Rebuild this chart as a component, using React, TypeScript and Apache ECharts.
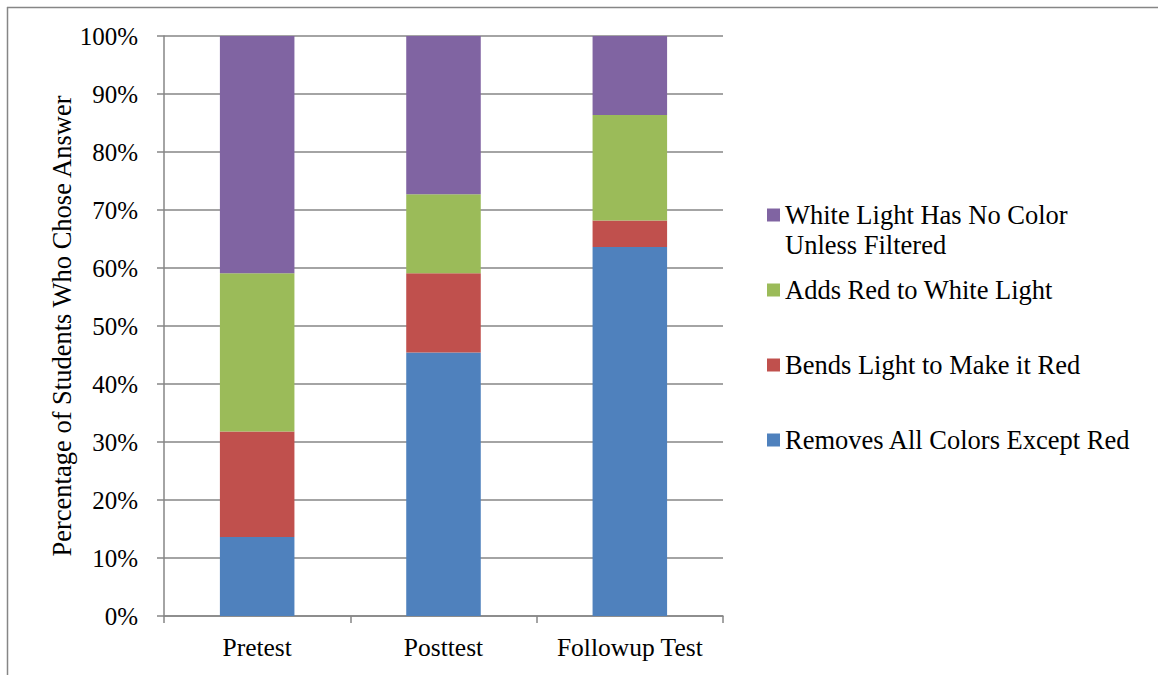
import React, { useEffect, useRef } from "react";
import * as echarts from "echarts";

const categories = ["Pretest", "Posttest", "Followup Test"];
const seriesNames = [
  "Removes All Colors Except Red",
  "Bends Light to Make it Red",
  "Adds Red to White Light",
  "White Light Has No Color Unless Filtered",
];
const removesAll = [13.64, 45.45, 63.64];
const bendsLight = [18.18, 13.64, 4.55];
const addsRed = [27.27, 13.64, 18.18];
const noColor = [40.91, 27.27, 13.64];
const seriesColors = ["#4F81BD", "#C0504D", "#9BBB59", "#8064A2"];
const yTicks = [0, 10, 20, 30, 40, 50, 60, 70, 80, 90, 100];

const FONT = "Liberation Serif";

export default function App() {
  const ref = useRef<HTMLDivElement>(null);
  useEffect(() => {
    if (!ref.current) return;
    const chart = echarts.init(ref.current, undefined, { renderer: "svg" });
    const values = [removesAll, bendsLight, addsRed, noColor];
    const legendCenters = [441, 366, 291, 216];
    const legends = seriesNames.map((name, i) => {
      const multi = i === 3;
      return {
        orient: "vertical",
        left: 762,
        top: multi ? legendCenters[i] - 51 : legendCenters[i] - 21,
        itemWidth: 13,
        itemHeight: 13,
        icon: "rect",
        selectedMode: false,
        data: [name],
        formatter: multi ? () => "\nWhite Light Has No Color\nUnless Filtered" : undefined,
        textStyle: {
          fontFamily: FONT,
          fontSize: 26.5,
          color: "#000",
          lineHeight: 30,
        },
      };
    });
    chart.setOption({
      animation: false,
      backgroundColor: "#fff",
      color: seriesColors,
      grid: { left: 164, right: 435, top: 36, bottom: 59, containLabel: false },
      legend: legends,
      xAxis: {
        type: "category",
        data: categories,
        axisLine: { lineStyle: { color: "#868686", width: 1.5 } },
        axisTick: { show: true, length: 7, lineStyle: { color: "#868686", width: 1.5 } },
        axisLabel: { fontFamily: FONT, fontSize: 25.5, color: "#000", margin: 18, interval: 0 },
      },
      yAxis: {
        type: "value",
        min: 0,
        max: 100,
        interval: 10,
        name: "Percentage of Students Who Chose Answer",
        nameLocation: "middle",
        nameGap: 89,
        nameTextStyle: { fontFamily: FONT, fontSize: 26.5, color: "#000" },
        axisLine: { show: true, lineStyle: { color: "#868686", width: 1.5 } },
        axisTick: { show: true, length: 7, lineStyle: { color: "#868686", width: 1.5 } },
        splitLine: { show: true, lineStyle: { color: "#868686", width: 1.5 } },
        axisLabel: {
          fontFamily: FONT,
          fontSize: 25,
          color: "#000",
          margin: 26,
          formatter: (v: number) => (yTicks.includes(v) ? v + "%" : ""),
        },
      },
      series: seriesNames.map((name, i) => ({
        name,
        type: "bar",
        stack: "total",
        barCategoryGap: "60%",
        data: values[i],
        itemStyle: { color: seriesColors[i] },
      })),
      graphic: [
        {
          type: "line",
          shape: { x1: 7, y1: 7.5, x2: 1158, y2: 7.5 },
          style: { stroke: "#868686", lineWidth: 1.5 },
        },
        {
          type: "line",
          shape: { x1: 7.5, y1: 7, x2: 7.5, y2: 675 },
          style: { stroke: "#868686", lineWidth: 1.5 },
        },
      ],
    });
    return () => chart.dispose();
  }, []);
  return (
    <div
      ref={ref}
      style={{ position: "fixed", left: 0, top: 0, width: 1158, height: 675 }}
    />
  );
}
